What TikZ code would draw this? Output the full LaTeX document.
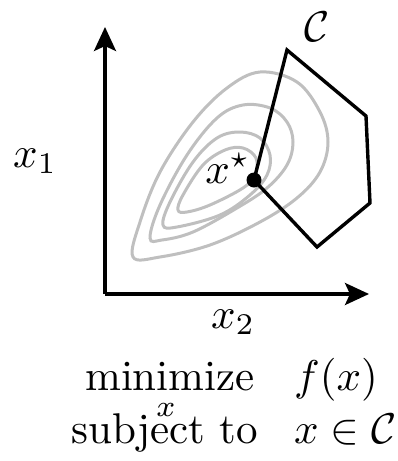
\documentclass[tikz,border=0pt]{standalone}
\usetikzlibrary{arrows.meta}
\newcommand{\bigtxt}[1]{\scalebox{4.3}{#1}}
\tikzset{
  lbl/.style={inner sep=0pt},
  axis/.style={line width=3.4pt, -{Stealth[length=24pt,width=22pt,inset=5pt]}},
  contour/.style={draw=black!25, line width=3pt},
  feas/.style={draw=black, line width=3.4pt, line join=miter},
}
\begin{document}
\begin{tikzpicture}[x=1pt,y=-1pt]
\useasboundingbox (0,0) rectangle (397,461);
% contours
\draw[contour] plot[smooth cycle, tension=0.6] coordinates {(133,257) (140,222) (160,172) (193,122) (227,88) (260,72) (297,82) (320,112) (328,142) (320,172) (297,198) (260,222) (210,245) (160,257)};
\draw[contour] plot[smooth cycle, tension=0.6] coordinates {(150,238) (160,205) (187,155) (217,118) (243,105) (270,108) (287,122) (293,142) (287,165) (267,188) (237,208) (193,232) (162,240)};
\draw[contour] plot[smooth cycle, tension=0.6] coordinates {(163,225) (170,202) (193,162) (217,138) (240,132) (260,138) (270,155) (267,175) (250,195) (220,215) (177,227)};
\draw[contour] plot[smooth cycle, tension=0.6] coordinates {(178,210) (183,195) (203,165) (225,150) (243,148) (256,158) (255,175) (243,188) (210,205) (187,212)};
% axes
\coordinate (origin) at (105,294);
\coordinate (ytip) at (105,27);
\coordinate (xtip) at (369,294);
\draw[axis] (origin) -- (ytip);
\draw[axis] (origin) -- (xtip);
% feasible set
\coordinate (xs) at (254,180);
\coordinate (p1) at (287,50);
\coordinate (p2) at (366,116);
\coordinate (p3) at (370,203);
\coordinate (p4) at (317,247);
\draw[feas] (xs) -- (p1) -- (p2) -- (p3) -- (p4) -- cycle;
\fill (xs) circle (7.5pt);
% labels
\node[lbl, anchor=base east] (xstar) at (250,183) {\bigtxt{$x^{\star}$}};
\node[lbl, anchor=base west] (x1) at (13,167) {\bigtxt{$x_1$}};
\node[lbl, anchor=base west] (x2) at (211,328) {\bigtxt{$x_2$}};
\node[lbl, anchor=base west] (cset) at (304,41) {\bigtxt{$\mathcal{C}$}};
\node[lbl, anchor=base west] (minimize) at (85,390) {\bigtxt{minimize}};
\node[lbl, anchor=base west] (under) at (156,416) {\bigtxt{$\scriptstyle x$}};
\node[lbl, anchor=base west] (obj) at (294,390) {\bigtxt{$f(x)$}};
\node[lbl, anchor=base west] (subj) at (71,443) {\bigtxt{subject to}};
\node[lbl, anchor=base west] (cons) at (294,443) {\bigtxt{$x\in\mathcal{C}$}};
\end{tikzpicture}
\end{document}
